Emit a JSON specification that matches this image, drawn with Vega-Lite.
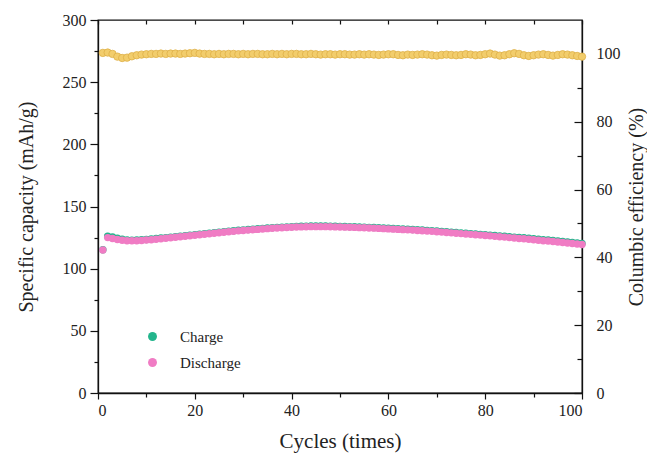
{
"$schema": "https://vega.github.io/schema/vega-lite/v6.json",
"width": 484, "height": 373,
"autosize": {"type": "none"},
"padding": {"left": 98, "top": 20, "right": 65, "bottom": 62},
"background": "white",
"config": {
  "font": "Liberation Serif",
  "view": {"stroke": "#111", "strokeWidth": 1.3},
  "axis": {"grid": false, "domainColor": "#111", "domainWidth": 1.3, "tickColor": "#111", "tickWidth": 1.2, "labelColor": "#222", "titleColor": "#222", "labelFont": "Liberation Serif", "titleFont": "Liberation Serif", "labelFontSize": 16, "titleFontSize": 20, "titleFontWeight": "normal"},
  "legend": {"labelFont": "Liberation Serif"}
},
"data": {"values": [
{"cycle":1,"Charge":115.2,"Discharge":115,"eff":100.3},
{"cycle":2,"Charge":126.2,"Discharge":125,"eff":100.4},
{"cycle":3,"Charge":125.5,"Discharge":124.3,"eff":100.0},
{"cycle":4,"Charge":124.4,"Discharge":123.4,"eff":99.2},
{"cycle":5,"Charge":123.6,"Discharge":122.8,"eff":98.8},
{"cycle":6,"Charge":123.0,"Discharge":122.5,"eff":98.9},
{"cycle":7,"Charge":122.9,"Discharge":122.4,"eff":99.3},
{"cycle":8,"Charge":123.0,"Discharge":122.5,"eff":99.6},
{"cycle":9,"Charge":123.2,"Discharge":122.7,"eff":99.8},
{"cycle":10,"Charge":123.5,"Discharge":123.0,"eff":99.9},
{"cycle":11,"Charge":123.8,"Discharge":123.3,"eff":100.0},
{"cycle":12,"Charge":124.2,"Discharge":123.7,"eff":100.0},
{"cycle":13,"Charge":124.6,"Discharge":124.1,"eff":100.1},
{"cycle":14,"Charge":125.0,"Discharge":124.5,"eff":100.0},
{"cycle":15,"Charge":125.4,"Discharge":124.9,"eff":100.1},
{"cycle":16,"Charge":125.8,"Discharge":125.3,"eff":100.1},
{"cycle":17,"Charge":126.2,"Discharge":125.7,"eff":100.0},
{"cycle":18,"Charge":126.6,"Discharge":126.1,"eff":100.1},
{"cycle":19,"Charge":127.0,"Discharge":126.5,"eff":100.2},
{"cycle":20,"Charge":127.4,"Discharge":126.9,"eff":100.3},
{"cycle":21,"Charge":127.8,"Discharge":127.3,"eff":100.1},
{"cycle":22,"Charge":128.2,"Discharge":127.7,"eff":100.0},
{"cycle":23,"Charge":128.6,"Discharge":128.1,"eff":100.0},
{"cycle":24,"Charge":129.0,"Discharge":128.5,"eff":99.9},
{"cycle":25,"Charge":129.4,"Discharge":128.9,"eff":100.0},
{"cycle":26,"Charge":129.8,"Discharge":129.3,"eff":99.9},
{"cycle":27,"Charge":130.2,"Discharge":129.7,"eff":100.0},
{"cycle":28,"Charge":130.5,"Discharge":130.0,"eff":100.0},
{"cycle":29,"Charge":130.9,"Discharge":130.4,"eff":99.9},
{"cycle":30,"Charge":131.2,"Discharge":130.7,"eff":100.0},
{"cycle":31,"Charge":131.5,"Discharge":131.0,"eff":99.9},
{"cycle":32,"Charge":131.8,"Discharge":131.3,"eff":100.0},
{"cycle":33,"Charge":132.1,"Discharge":131.6,"eff":100.0},
{"cycle":34,"Charge":132.4,"Discharge":131.9,"eff":99.9},
{"cycle":35,"Charge":132.7,"Discharge":132.2,"eff":99.9},
{"cycle":36,"Charge":133.0,"Discharge":132.5,"eff":100.0},
{"cycle":37,"Charge":133.2,"Discharge":132.7,"eff":99.9},
{"cycle":38,"Charge":133.4,"Discharge":132.9,"eff":100.0},
{"cycle":39,"Charge":133.6,"Discharge":133.1,"eff":99.9},
{"cycle":40,"Charge":133.8,"Discharge":133.3,"eff":100.0},
{"cycle":41,"Charge":134.0,"Discharge":133.5,"eff":100.0},
{"cycle":42,"Charge":134.1,"Discharge":133.6,"eff":99.9},
{"cycle":43,"Charge":134.2,"Discharge":133.7,"eff":99.9},
{"cycle":44,"Charge":134.3,"Discharge":133.8,"eff":100.0},
{"cycle":45,"Charge":134.3,"Discharge":133.8,"eff":99.9},
{"cycle":46,"Charge":134.3,"Discharge":133.8,"eff":99.8},
{"cycle":47,"Charge":134.3,"Discharge":133.8,"eff":99.9},
{"cycle":48,"Charge":134.2,"Discharge":133.7,"eff":99.9},
{"cycle":49,"Charge":134.1,"Discharge":133.6,"eff":99.8},
{"cycle":50,"Charge":134.0,"Discharge":133.5,"eff":99.9},
{"cycle":51,"Charge":133.9,"Discharge":133.4,"eff":99.9},
{"cycle":52,"Charge":133.8,"Discharge":133.3,"eff":99.8},
{"cycle":53,"Charge":133.7,"Discharge":133.2,"eff":99.8},
{"cycle":54,"Charge":133.5,"Discharge":133.0,"eff":99.9},
{"cycle":55,"Charge":133.4,"Discharge":132.9,"eff":99.8},
{"cycle":56,"Charge":133.2,"Discharge":132.7,"eff":99.9},
{"cycle":57,"Charge":133.1,"Discharge":132.6,"eff":99.8},
{"cycle":58,"Charge":132.9,"Discharge":132.4,"eff":99.7},
{"cycle":59,"Charge":132.7,"Discharge":132.2,"eff":99.8},
{"cycle":60,"Charge":132.5,"Discharge":132.0,"eff":99.9},
{"cycle":61,"Charge":132.3,"Discharge":131.8,"eff":99.9},
{"cycle":62,"Charge":132.1,"Discharge":131.6,"eff":99.7},
{"cycle":63,"Charge":131.9,"Discharge":131.4,"eff":99.6},
{"cycle":64,"Charge":131.7,"Discharge":131.2,"eff":99.8},
{"cycle":65,"Charge":131.5,"Discharge":131.0,"eff":99.7},
{"cycle":66,"Charge":131.3,"Discharge":130.7,"eff":99.8},
{"cycle":67,"Charge":131.1,"Discharge":130.5,"eff":99.9},
{"cycle":68,"Charge":130.8,"Discharge":130.2,"eff":99.8},
{"cycle":69,"Charge":130.6,"Discharge":130.0,"eff":99.6},
{"cycle":70,"Charge":130.3,"Discharge":129.7,"eff":99.5},
{"cycle":71,"Charge":130.0,"Discharge":129.4,"eff":99.7},
{"cycle":72,"Charge":129.7,"Discharge":129.1,"eff":99.8},
{"cycle":73,"Charge":129.4,"Discharge":128.8,"eff":99.7},
{"cycle":74,"Charge":129.1,"Discharge":128.5,"eff":99.6},
{"cycle":75,"Charge":128.8,"Discharge":128.2,"eff":99.7},
{"cycle":76,"Charge":128.5,"Discharge":127.9,"eff":99.9},
{"cycle":77,"Charge":128.2,"Discharge":127.6,"eff":99.8},
{"cycle":78,"Charge":127.9,"Discharge":127.3,"eff":99.6},
{"cycle":79,"Charge":127.6,"Discharge":127.0,"eff":99.7},
{"cycle":80,"Charge":127.3,"Discharge":126.7,"eff":99.9},
{"cycle":81,"Charge":127.0,"Discharge":126.4,"eff":100.1},
{"cycle":82,"Charge":126.7,"Discharge":126.0,"eff":99.8},
{"cycle":83,"Charge":126.4,"Discharge":125.7,"eff":99.5},
{"cycle":84,"Charge":126.1,"Discharge":125.4,"eff":99.6},
{"cycle":85,"Charge":125.7,"Discharge":125.0,"eff":99.9},
{"cycle":86,"Charge":125.4,"Discharge":124.7,"eff":100.2},
{"cycle":87,"Charge":125.1,"Discharge":124.3,"eff":100.0},
{"cycle":88,"Charge":124.8,"Discharge":124.0,"eff":99.6},
{"cycle":89,"Charge":124.4,"Discharge":123.6,"eff":99.4},
{"cycle":90,"Charge":124.1,"Discharge":123.3,"eff":99.6},
{"cycle":91,"Charge":123.7,"Discharge":122.9,"eff":99.8},
{"cycle":92,"Charge":123.3,"Discharge":122.5,"eff":99.9},
{"cycle":93,"Charge":123.0,"Discharge":122.2,"eff":99.7},
{"cycle":94,"Charge":122.6,"Discharge":121.8,"eff":99.5},
{"cycle":95,"Charge":122.2,"Discharge":121.4,"eff":99.7},
{"cycle":96,"Charge":121.8,"Discharge":121.0,"eff":99.9},
{"cycle":97,"Charge":121.4,"Discharge":120.6,"eff":99.8},
{"cycle":98,"Charge":121.0,"Discharge":120.2,"eff":99.6},
{"cycle":99,"Charge":120.6,"Discharge":119.8,"eff":99.4},
{"cycle":100,"Charge":120.2,"Discharge":119.4,"eff":99.2}
]},
"layer": [
  {
    "mark": {"type": "point", "filled": true, "size": 55, "color": "#f2cd6c", "stroke": "#deb048", "strokeWidth": 0.8, "opacity": 1},
    "encoding": {
      "x": {"field": "cycle", "type": "quantitative", "scale": {"domain": [0, 100], "nice": false},
        "axis": {"orient": "bottom", "values": [0, 20, 40, 60, 80, 100], "title": "Cycles (times)", "tickSize": 6, "labelPadding": 3, "titleFontSize": 21, "titlePadding": 12}},
      "y": {"field": "eff", "type": "quantitative", "scale": {"domain": [0, 110], "nice": false, "zero": false},
        "axis": {"orient": "right", "values": [0, 20, 40, 60, 80, 100], "title": "Columbic efficiency (%)", "titleAngle": 270, "tickSize": -8, "labelPadding": 22, "titlePadding": 26}}
    }
  },
  {
    "mark": {"type": "point", "opacity": 0},
    "encoding": {
      "x": {"field": "cycle", "type": "quantitative", "scale": {"domain": [0, 100], "nice": false},
        "axis": {"orient": "top", "values": [0, 10, 20, 30, 40, 50, 60, 70, 80, 90, 100], "labels": false, "domain": false, "tickSize": -4, "title": null}},
      "y": {"field": "eff", "type": "quantitative", "scale": {"domain": [0, 110], "nice": false, "zero": false},
        "axis": {"orient": "right", "values": [10, 30, 50, 70, 90], "labels": false, "domain": false, "tickSize": -5, "title": null}}
    }
  },
  {
    "transform": [{"fold": ["Charge", "Discharge"], "as": ["series", "cap"]}],
    "mark": {"type": "point", "filled": true, "size": 55, "opacity": 1, "strokeWidth": 0},
    "encoding": {
      "x": {"field": "cycle", "type": "quantitative", "scale": {"domain": [0, 100], "nice": false},
        "axis": {"orient": "bottom", "values": [10, 30, 50, 70, 90], "labels": false, "domain": false, "tickSize": 4, "title": null}},
      "y": {"field": "cap", "type": "quantitative", "scale": {"domain": [0, 300], "nice": false},
        "axis": {"orient": "left", "values": [0, 50, 100, 150, 200, 250, 300], "title": "Specific capacity (mAh/g)", "tickSize": 8, "labelPadding": 4, "titlePadding": 26}},
      "color": {"field": "series", "type": "nominal",
        "scale": {"domain": ["Charge", "Discharge"], "range": ["#23b58c", "#f07cc4"]},
        "legend": {"orient": "none", "legendX": 47, "legendY": 309, "title": null, "padding": 0, "symbolType": "circle", "symbolSize": 80, "labelFontSize": 15, "labelOffset": 20, "rowPadding": 10, "labelColor": "#222"}},
      "order": {"field": "series"}
    }
  },
  {
    "mark": {"type": "point", "opacity": 0},
    "encoding": {
      "x": {"field": "cycle", "type": "quantitative", "scale": {"domain": [0, 100], "nice": false}, "axis": null},
      "y": {"field": "Discharge", "type": "quantitative", "scale": {"domain": [0, 300], "nice": false},
        "axis": {"orient": "left", "values": [25, 75, 125, 175, 225, 275], "labels": false, "domain": false, "tickSize": 4, "title": null}}
    }
  }
],
"resolve": {"scale": {"y": "independent"}, "axis": {"x": "independent", "y": "independent"}}
}
